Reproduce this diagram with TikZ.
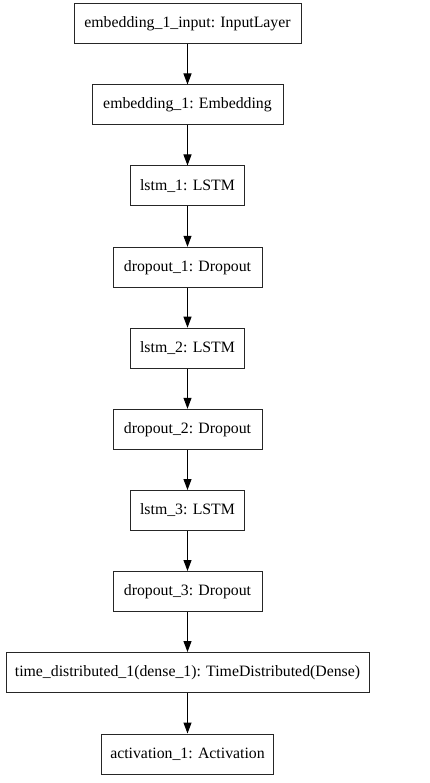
\documentclass[tikz,border=0pt]{standalone}
\usepackage{fontspec}
\setmainfont{Liberation Serif}
\usetikzlibrary{arrows.meta}
\begin{document}
\begin{tikzpicture}[x=1pt,y=-1pt,
  layer/.style={draw=black!85,line width=1pt,minimum height=40pt,inner sep=0pt,font=\fontsize{15.8}{18}\selectfont},
  conn/.style={line width=1pt,-{Triangle[length=11pt,width=8pt]}}]
\useasboundingbox (0,0) rectangle (430,783);
\node[layer,minimum width=227pt] (b1) at (187.5,24) {embedding\_1\_input: InputLayer};
\node[layer,minimum width=191pt] (b2) at (187.5,105) {embedding\_1: Embedding};
\node[layer,minimum width=114pt] (b3) at (187.5,186) {lstm\_1: LSTM};
\node[layer,minimum width=149pt] (b4) at (187.5,267.3) {dropout\_1: Dropout};
\node[layer,minimum width=114pt] (b5) at (187.5,348.2) {lstm\_2: LSTM};
\node[layer,minimum width=149pt] (b6) at (187.5,429.3) {dropout\_2: Dropout};
\node[layer,minimum width=114pt] (b7) at (187.5,510.5) {lstm\_3: LSTM};
\node[layer,minimum width=149pt] (b8) at (187.5,591.5) {dropout\_3: Dropout};
\node[layer,minimum width=363pt] (b9) at (187.5,672.5) {time\_distributed\_1(dense\_1): TimeDistributed(Dense)};
\node[layer,minimum width=172pt] (b10) at (187.5,754) {activation\_1: Activation};
\foreach \a/\b in {b1/b2,b2/b3,b3/b4,b4/b5,b5/b6,b6/b7,b7/b8,b8/b9,b9/b10}
  \draw[conn] (\a) -- (\b);
\end{tikzpicture}
\end{document}
